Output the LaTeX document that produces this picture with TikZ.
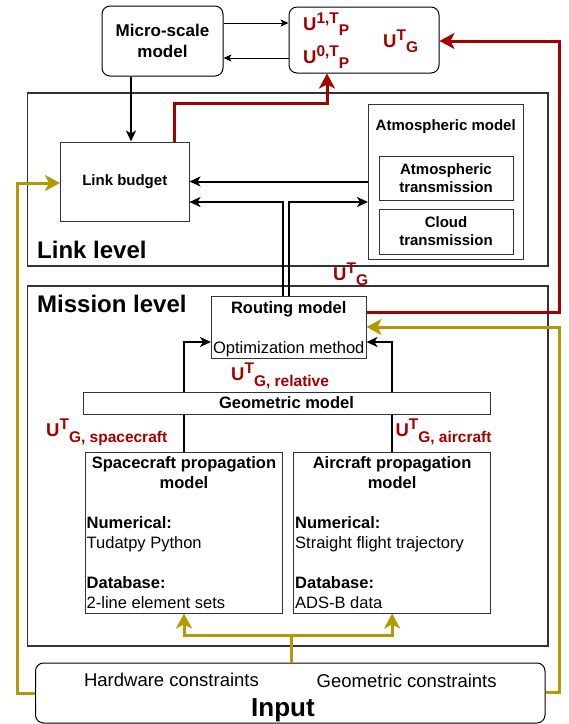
\documentclass[tikz,border=0pt]{standalone}
\usepackage{fontspec}
\setmainfont{Liberation Sans}
\usetikzlibrary{arrows.meta,positioning,calc}
\definecolor{flowred}{RGB}{163,0,0}
\definecolor{inputgold}{RGB}{181,153,0}
\newcommand{\usp}[1]{\raisebox{7pt}{\fontsize{15.5}{16}\selectfont #1}}
\newcommand{\usb}[1]{\raisebox{-5.5pt}{\fontsize{15.5}{16}\selectfont #1}}
\tikzset{
  levelframe/.style={draw=black!80, line width=1.2pt, inner sep=0pt},
  levelname/.style={fill=white, inner sep=1pt, font=\fontsize{24}{28}\selectfont\bfseries},
  block/.style={draw=black!80, line width=1pt, fill=white, inner sep=2pt, align=center, font=\fontsize{16.5}{20}\selectfont\bfseries},
  smallblock/.style={draw=black!80, line width=1pt, fill=white, inner sep=2pt, align=center, font=\fontsize{15}{18}\selectfont\bfseries},
  roundblock/.style={draw=black, line width=1pt, rounded corners=8pt, fill=white, inner sep=2pt, align=center, font=\fontsize{17}{21}\selectfont\bfseries},
  boxtitle/.style={inner sep=0pt, align=center, font=\fontsize{16.5}{20}\selectfont\bfseries},
  plaintext/.style={inner sep=0pt, align=left, font=\fontsize{16.5}{20}\selectfont},
  flowlabel/.style={inner sep=0pt, text=flowred, font=\fontsize{18.5}{20}\selectfont\bfseries},
  arrow/.style={-{Stealth[length=11pt,width=10pt,inset=3pt]}, line width=2pt},
  thinarrow/.style={-{Stealth[length=8pt,width=7pt,inset=2pt]}, line width=1pt},
  plainline/.style={line width=2pt},
  redarrow/.style={-{Stealth[length=15pt,width=16pt,inset=4pt]}, line width=3pt, flowred},
  goldarrow/.style={-{Stealth[length=15pt,width=16pt,inset=4pt]}, line width=3pt, inputgold},
  goldline/.style={line width=3pt, inputgold}
}

\begin{document}
\begin{tikzpicture}[x=1pt,y=-1pt]
  \useasboundingbox (0,0) rectangle (569,724);

  \node[levelframe, minimum width=520.4pt, minimum height=173pt] (linklvl) at (287.8,179.5) {};
  \node[levelframe, minimum width=520.4pt, minimum height=360pt] (missionlvl) at (287.8,466) {};
  \node[levelname, anchor=base west] (linkname) at (36,258.3) {Link level};
  \node[levelname, anchor=base west] (missionname) at (36,312.7) {Mission level};

  \node[roundblock, minimum width=121pt, minimum height=70pt] (micro) at (162.5,41) {Micro-scale\\model};
  \node[roundblock, minimum width=150pt, minimum height=66pt] (ubox) at (364,40) {};
  \node[flowlabel, anchor=base west] (u1) at (303,30) {U\usp{1,T}\usb{P}};
  \node[flowlabel, anchor=base west] (u0) at (303,63.3) {U\usp{0,T}\usb{P}};
  \node[flowlabel, anchor=base west] (ug) at (383,47.3) {U\usp{T}\usb{G}};

  \node[smallblock, minimum width=128.5pt, minimum height=79pt] (lb) at (124.75,181.5) {Link budget};
  \node[smallblock, minimum width=154.5pt, minimum height=155pt] (atm) at (445.75,181.5) {};
  \node[inner sep=0pt, font=\fontsize{15}{18}\selectfont\bfseries, anchor=base] (atmname) at (445.75,130.7) {Atmospheric model};
  \node[smallblock, minimum width=134pt, minimum height=44pt] (atmtr) at (446,178) {Atmospheric\\transmission};
  \node[smallblock, minimum width=134pt, minimum height=45pt] (cloud) at (446,231.5) {Cloud\\transmission};

  \node[block, minimum width=154.5pt, minimum height=62pt] (route) at (288.75,327) {};
  \node[boxtitle, anchor=base] (routename) at (288.75,313.3) {Routing model};
  \node[plaintext, anchor=base] (optname) at (288.75,353) {Optimization method};
  \node[block, minimum width=407pt, minimum height=22pt] (geo) at (286.5,403) {Geometric model};
  \node[block, minimum width=197.3pt, minimum height=161pt] (sc) at (184,532.5) {};
  \node[block, minimum width=196.6pt, minimum height=161pt] (ac) at (392.1,532.5) {};
  \node[boxtitle, anchor=north] (sctitle) at (184,456) {Spacecraft propagation\\model};
  \node[boxtitle, anchor=north] (actitle) at (392.1,456) {Aircraft propagation\\model};
  \node[plaintext, anchor=base west] (scbody) at (86.5,608) {\textbf{Numerical:}\\Tudatpy Python\\[20pt]\textbf{Database:}\\2-line element sets};
  \node[plaintext, anchor=base west] (acbody) at (295,608) {\textbf{Numerical:}\\Straight flight trajectory\\[20pt]\textbf{Database:}\\ADS-B data};

  \node[roundblock, minimum width=509.5pt, minimum height=60pt] (inp) at (290.25,693) {};
  \node[inner sep=0pt, font=\fontsize{18.5}{22}\selectfont, anchor=base] (hw) at (171.5,686.7) {Hardware constraints};
  \node[inner sep=0pt, font=\fontsize{18.5}{22}\selectfont, anchor=base] (gc) at (406.7,687) {Geometric constraints};
  \node[inner sep=0pt, font=\fontsize{26}{30}\selectfont\bfseries, anchor=base] (inpname) at (283,716) {Input};

  \node[flowlabel, anchor=base west] (ugl) at (333,280) {U\usp{T}\usb{G}};
  \node[flowlabel, anchor=base west] (ugrel) at (231,380.7) {U\usp{T}\usb{G, relative}};
  \node[flowlabel, anchor=base west] (ugsc) at (46,436.7) {U\usp{T}\usb{G, spacecraft}};
  \node[flowlabel, anchor=base west] (ugac) at (395.3,436.7) {U\usp{T}\usb{G, aircraft}};

  \coordinate (mx) at (131,0);
  \coordinate (rl) at (174,103);
  \coordinate (rm) at (327,103);
  \coordinate (dl) at (282.5,202);
  \coordinate (dr) at (288.6,202);
  \coordinate (rr1) at (559,312);
  \coordinate (rr2) at (559,41);
  \coordinate (gr1) at (559,692);
  \coordinate (gr2) at (559,327);
  \coordinate (gl1) at (17,693);
  \coordinate (gl2) at (17,183);
  \coordinate (gc1) at (291,635);

  \draw[thinarrow] ([yshift=18pt]micro.east) -- ([yshift=17pt]ubox.west);
  \draw[thinarrow] ([yshift=-18pt]ubox.west) -- ([yshift=-17pt]micro.east);
  \draw[arrow] (micro.south -| mx) -- (lb.north -| mx);
  \draw[redarrow] (lb.north -| rl) -- (rl) -- (rm) -- (ubox.south -| rm);
  \draw[arrow] (atm.west) -- (lb.east);
  \draw[arrow] (route.north -| dl) -- (dl) -- (lb.east |- dl);
  \draw[arrow] (route.north -| dr) -- (dr) -- (atm.west |- dr);
  \draw[redarrow] (route.east |- rr1) -- (rr1) -- (rr2) -- (ubox.east |- rr2);
  \draw[arrow] (geo.north -| sc.north) |- ([yshift=-15pt]route.west);
  \draw[arrow] (geo.north -| ac.north) |- ([yshift=-15pt]route.east);
  \draw[plainline] (geo.south -| sc.north) -- (sc.north);
  \draw[plainline] (geo.south -| ac.north) -- (ac.north);
  \draw[goldline] (inp.north -| gc1) -- (gc1);
  \draw[goldarrow] (gc1) -| (sc.south);
  \draw[goldarrow] (gc1) -| (ac.south);
  \draw[goldarrow] (inp.east |- gr1) -- (gr1) -- (gr2) -- (route.east |- gr2);
  \draw[goldarrow] (inp.west |- gl1) -- (gl1) -- (gl2) -- (lb.west |- gl2);
\end{tikzpicture}
\end{document}
